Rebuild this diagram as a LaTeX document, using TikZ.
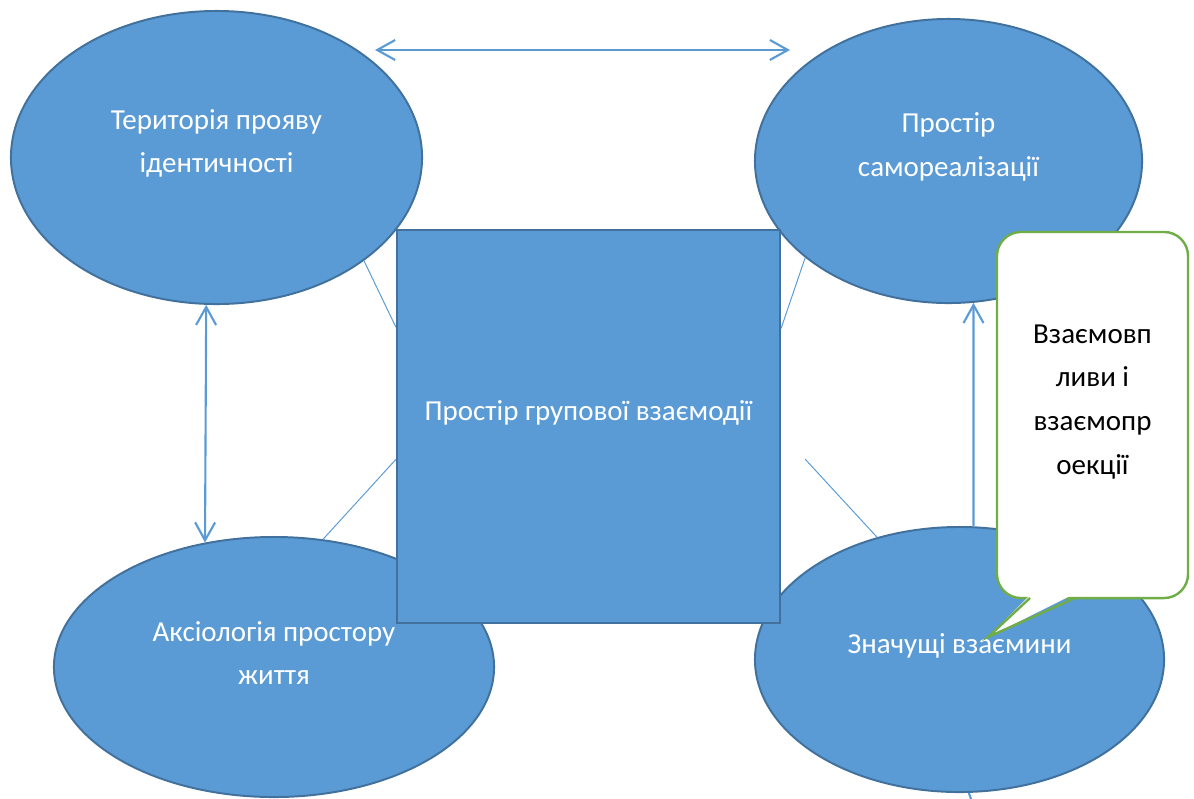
\documentclass[tikz,border=0pt]{standalone}
\usepackage{fontspec}
\setmainfont{Carlito}
\usetikzlibrary{arrows.meta,shapes.geometric,calc}
\definecolor{zonefill}{HTML}{5B9BD5}
\definecolor{zoneline}{HTML}{41719C}
\definecolor{noteline}{HTML}{70AD47}

\begin{document}
\begin{tikzpicture}[
  x=0.025cm, y=-0.025cm,
  font=\fontsize{20.6}{31}\selectfont,
  zone/.style={ellipse, draw=zoneline, fill=zonefill, line width=1.4pt, inner sep=0pt},
  zonetext/.style={text=white, align=center, yshift=0.35cm},
  group/.style={draw=zoneline, fill=zonefill, line width=1.4pt, minimum width=9.575cm, minimum height=9.825cm},
  note/.style={draw=noteline, fill=white, line width=1.7pt, rounded corners=0.6cm, minimum width=4.775cm, minimum height=9.15cm},
  notetext/.style={text=black, align=center, yshift=0.33cm},
  link/.style={draw=zonefill, line width=0.7pt},
  barb/.tip={Straight Barb[length=4.5mm,width=5mm]},
  arrow/.style={draw=zonefill, line width=1.5pt, -barb},
  dblarrow/.style={draw=zonefill, line width=1.5pt, barb-barb}
]
\useasboundingbox (0,0) rectangle (1194,798);

% four spaces
\node[zone, minimum width=10.275cm, minimum height=7.325cm,
  label={[zonetext]center:Територія прояву\\ідентичності}] (terr) at (216.5,157.5) {};
\node[zone, minimum width=9.675cm, minimum height=7.1cm,
  label={[zonetext]center:Простір\\самореалізації}] (self) at (948.5,161) {};
\node[zone, minimum width=11cm, minimum height=6.5cm,
  label={[zonetext]center:Аксіологія простору\\життя}] (axiol) at (274,667) {};
\node[zone, minimum width=10.225cm, minimum height=6.625cm,
  label={[zonetext]center:Значущі взаємини}] (sign) at (959.5,659.5) {};

\coordinate (left) at (375,50);
\coordinate (right) at (790,50);
\coordinate (free) at (805,459);
\coordinate (exit) at (975,810);

\draw[dblarrow] (left) -- (right);
\draw[dblarrow] (terr.-94.5) -- (axiol.119);
\draw[arrow] (sign.84.6) -- (self.-80.5);
\draw[draw=zonefill, line width=1.5pt] (sign.-86) -- (exit);

% central square
\node[group, label={[zonetext]center:Простір групової взаємодії}] (group) at (588.5,426.5) {};

\draw[link] (terr.-35.2) -- ($(group.north west)!0.249!(group.south west)$);
\draw[link] (axiol.69.5) -- ($(group.north west)!0.583!(group.south west)$);
\draw[link] (self.-146) -- ($(group.north east)!0.252!(group.south east)$);
\draw[link] (sign.124.2) -- (free);

% callout
\node[note, label={[notetext]center:Взаємовп\\ливи і\\взаємопр\\оекції}] (note) at (1092.5,415) {};
\coordinate (tip) at (988,637);
\fill[white] (1031,594) -- (tip) -- (1074,594) -- cycle;
\draw[draw=noteline, line width=1.7pt, line join=miter] (1030,598) -- (tip) -- (1075,598);

\end{tikzpicture}
\end{document}
